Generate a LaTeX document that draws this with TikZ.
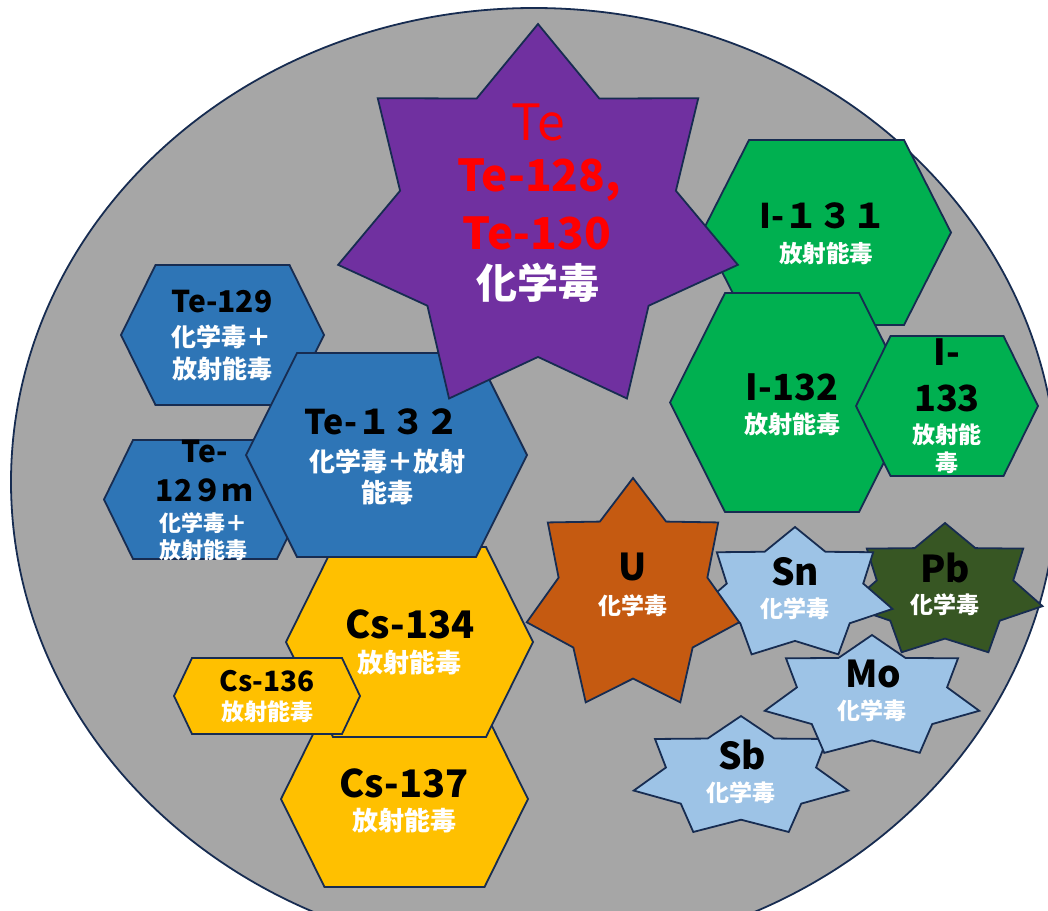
\documentclass[tikz,border=0pt]{standalone}
\usepackage{fontspec}
\setmainfont{Noto Sans CJK JP}
\definecolor{bggray}{HTML}{A6A6A6}
\definecolor{edge}{HTML}{172C51}
\definecolor{tepurple}{HTML}{7030A0}
\definecolor{teblue}{HTML}{2E75B6}
\definecolor{igreen}{HTML}{00B050}
\definecolor{csgold}{HTML}{FFC000}
\definecolor{uorange}{HTML}{C55A11}
\definecolor{lblue}{HTML}{9DC3E6}
\definecolor{pbgreen}{HTML}{375623}
\definecolor{tered}{HTML}{FF0000}
\newcommand\fs[1]{\fontsize{#1}{#1}\selectfont}
% hexagon: name, cx, cy, half width, half top width, half height, fill
\newcommand\hexa[7]{%
  \path[shp, fill=#7] (#2-#4,#3) coordinate (#1) -- (#2-#5,#3-#6) -- (#2+#5,#3-#6)
    -- (#2+#4,#3) -- (#2+#5,#3+#6) -- (#2-#5,#3+#6) -- cycle;}
% seven-point star: name, cx, cy, rx, ry, inner ratio, fill
\newcommand\heptastar[7]{%
  \begin{scope}[shift={(#2,#3)}]
    \path[shp, fill=#7] (-90:#4 and #5) coordinate (#1)
      \foreach \k in {1,...,13}{
        -- ({-90+\k*360/14}:{(1-(1-#6)*mod(\k,2))*#4} and {(1-(1-#6)*mod(\k,2))*#5})
      } -- cycle;
  \end{scope}}
\tikzset{
  shp/.style={draw=edge, line width=1.8pt, line join=miter},
  lat/.style={inner sep=0pt, text=black, font=\bfseries},
  kj/.style={inner sep=0pt, text=white, font=\bfseries},
}
\begin{document}
\begin{tikzpicture}[x=1pt,y=-1pt]
\useasboundingbox (0,0) rectangle (1048,910);
\clip (0,0) rectangle (1048,910);
% background ellipse
\path[shp, fill=bggray] (534,482) ellipse [x radius=523pt, y radius=474pt];
% caesium
\hexa{cs137}{404.5}{799}{123.5}{80}{88}{csgold}
\hexa{cs134}{409.5}{642}{123.5}{76.5}{95}{csgold}
\hexa{cs136}{267}{696}{93}{75}{38}{csgold}
% tellurium hexagons
\hexa{te129}{222.5}{335}{101.5}{67}{70}{teblue}
\hexa{te129m}{205}{499.5}{101}{72}{59.5}{teblue}
\hexa{te132}{386.5}{455}{140.5}{89.5}{102}{teblue}
% iodine
\hexa{i131}{826.5}{232.5}{124.5}{77.5}{92.5}{igreen}
\hexa{i132}{792}{402.5}{122}{67}{109.5}{igreen}
\hexa{i133}{947}{406}{91}{56.5}{70}{igreen}
% stars
\heptastar{te}{538}{221}{205}{197}{0.69}{tepurple}
\heptastar{sb}{741}{777}{110}{61}{0.7}{lblue}
\heptastar{mo}{872}{697}{110}{62}{0.7}{lblue}
\heptastar{pb}{945}{591}{100}{68}{0.7}{pbgreen}
\heptastar{sn}{795}{594}{100}{67}{0.7}{lblue}
\heptastar{u}{633}{596}{109}{118}{0.7}{uorange}
% texts: Te star
\node[inner sep=0pt, text=tered] (te-a) at (538,122) {\fs{50}Te};
\node[lat, text=tered] (te-b) at (539,180) {\fs{44}Te-128,};
\node[lat, text=tered] (te-c) at (537,233) {\fs{44}Te-130};
\node[kj] (te-d) at (538,283) {\fs{41}化学毒};
% Te-129
\node[lat] (t129-a) at (222,302) {\fs{30}Te-129};
\node[kj] (t129-b) at (221,337) {\fs{25}化学毒＋};
\node[kj] (t129-c) at (222,369) {\fs{25}放射能毒};
% Te-129m
\node[lat] (t129m-a) at (205,452) {\fs{30}Te-};
\node[lat] (t129m-b) at (204,490) {\fs{30}12９ｍ};
\node[kj] (t129m-c) at (203,523) {\fs{22}化学毒＋};
\node[kj] (t129m-d) at (203,550) {\fs{22}放射能毒};
% Te-132
\node[lat] (t132-a) at (382,422) {\fs{34}Te-１３２};
\node[kj] (t132-b) at (387,462) {\fs{26}化学毒＋放射};
\node[kj] (t132-c) at (387,493) {\fs{26}能毒};
% iodine
\node[lat] (i131-a) at (823,216) {\fs{34}I-１３１};
\node[kj] (i131-b) at (826,254) {\fs{23.5}放射能毒};
\node[lat] (i132-a) at (792,387) {\fs{36}I-132};
\node[kj] (i132-b) at (792,424) {\fs{24}放射能毒};
\node[lat] (i133-a) at (947,352) {\fs{36}I-};
\node[lat] (i133-b) at (947,398) {\fs{36}133};
\node[kj] (i133-c) at (947,435) {\fs{23}放射能};
\node[kj] (i133-d) at (947,463) {\fs{23}毒};
% caesium texts
\node[lat] (cs134-a) at (410,624) {\fs{38}Cs-134};
\node[kj] (cs134-b) at (409,663) {\fs{26}放射能毒};
\node[lat] (cs136-a) at (267,681) {\fs{28}Cs-136};
\node[kj] (cs136-b) at (267,712) {\fs{23}放射能毒};
\node[lat] (cs137-a) at (404,783) {\fs{38}Cs-137};
\node[kj] (cs137-b) at (404,821) {\fs{26}放射能毒};
% metals
\node[lat] (u-a) at (633,567) {\fs{37}U};
\node[kj] (u-b) at (633,606) {\fs{23}化学毒};
\node[lat] (sn-a) at (795,572) {\fs{37}Sn};
\node[kj] (sn-b) at (795,609) {\fs{23}化学毒};
\node[lat] (pb-a) at (945,568) {\fs{37}Pb};
\node[kj] (pb-b) at (945,605) {\fs{23}化学毒};
\node[lat] (mo-a) at (873,674) {\fs{37}Mo};
\node[kj] (mo-b) at (872,711) {\fs{23}化学毒};
\node[lat] (sb-a) at (742,755) {\fs{37}Sb};
\node[kj] (sb-b) at (741,793) {\fs{23}化学毒};
\end{tikzpicture}
\end{document}
